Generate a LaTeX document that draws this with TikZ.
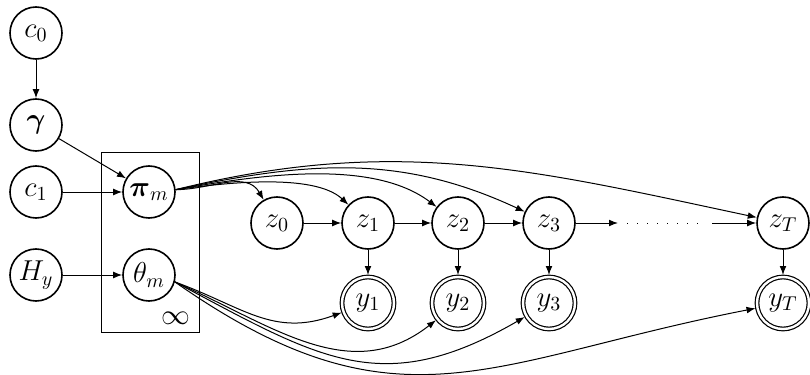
\documentclass[tikz,border=0pt]{standalone}
\usepackage{amsmath}
\usetikzlibrary{arrows.meta}
\tikzset{
  latent/.style={draw, circle, thick, minimum size=26pt, inner sep=0pt, font=\Large},
  observed/.style={latent, double, double distance=1.2pt, semithick, outer sep=1pt},
  edge/.style={-{Latex[length=4.5pt, width=3.4pt]}, line width=0.5pt},
}
\begin{document}
\begin{tikzpicture}[x=0.5pt, y=-0.5pt]
      \useasboundingbox (0,0) rectangle (810,375);
        %%hyperparameters
        \node[latent] (c0) at (36, 33) {$c_0$};
        \node[latent] (gamma) at (36, 125) {$\boldsymbol{\gamma}$};
        \node[latent] (c1) at (36, 192) {$c_1$};
        \node[latent] (Hy) at (36, 275) {$H_y$};
        %%plate
        \node[latent] (pi) at (149, 192) {$\boldsymbol{\pi}_m$};
        \node[latent] (theta) at (149, 275) {$\theta_m$};
        \draw (101, 152) rectangle (199, 332);
        \node[font=\Large] (inf) at (176, 318) {$\infty$};
        %%chain
        \node[latent] (z0) at (277, 223) {$z_0$};
        \node[latent] (z1) at (368, 223) {$z_1$};
        \node[latent] (z2) at (458, 223) {$z_2$};
        \node[latent] (z3) at (549, 223) {$z_3$};
        \node[latent] (zT) at (783, 223) {$z_T$};
        \node[observed] (y1) at (368, 303) {$y_1$};
        \node[observed] (y2) at (458, 303) {$y_2$};
        \node[observed] (y3) at (549, 303) {$y_3$};
        \node[observed] (yT) at (783, 303) {$y_T$};
        \coordinate (d1) at (618, 223);
        \coordinate (d2) at (627, 223);
        \coordinate (d3) at (699, 223);
        \coordinate (d4) at (712, 223);

        \draw[edge] (c0) to (gamma);
        \draw[edge] (gamma) to (pi);
        \draw[edge] (c1) to (pi);
        \draw[edge] (Hy) to (theta);

        \draw[edge] (z0) to (z1);
        \draw[edge] (z1) to (z2);
        \draw[edge] (z2) to (z3);
        \draw[edge] (z3) to (d1);
        \draw[dash pattern=on 0.6pt off 4.4pt] (d2) to (d3);
        \draw[edge] (d4) to (zT);

        \draw[edge] (z1) to (y1);
        \draw[edge] (z2) to (y2);
        \draw[edge] (z3) to (y3);
        \draw[edge] (zT) to (yT);
      %%transitions
        \draw[edge] (pi.5) to[out=0, in=120] (z0);
        \draw[edge] (pi.5) to[out=8, in=137, looseness=0.7] (z1);
        \draw[edge] (pi.5) to[out=10, in=143, looseness=0.8] (z2);
        \draw[edge] (pi.5) to[out=12, in=155] (z3);
        \draw[edge] (pi.5) to[out=14, in=168] (zT);
      %%emissions
        \draw[edge] (theta.-15) to[out=-20, in=200, looseness=1.1] (y1);
        \draw[edge] (theta.-15) to[out=-24, in=218, looseness=1.05] (y2);
        \draw[edge] (theta.-15) to[out=-28, in=210, looseness=1.2] (y3);
        \draw[edge] (theta.-15) to[out=-35, in=191, looseness=1.2] (yT);
\end{tikzpicture}
\end{document}
